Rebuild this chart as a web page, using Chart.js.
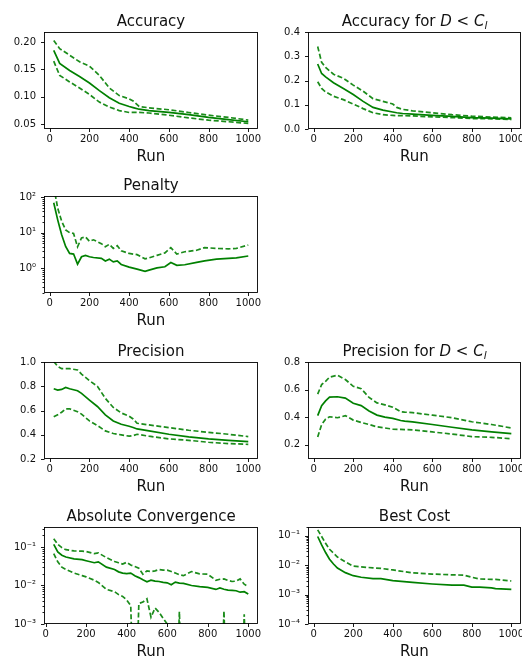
<!DOCTYPE html>
<html>
<head>
<meta charset="utf-8">
<script src="https://cdn.jsdelivr.net/npm/chart.js@4.4.0/dist/chart.umd.min.js"></script>
<style>
  body { margin: 0; background: #fff; }
  #page { position: relative; width: 522px; height: 660px; overflow: hidden; }
  canvas { position: absolute; }
</style>
</head>
<body>
<div id="page">
  <canvas id="acc" width="262" height="165" style="left:0;top:0"></canvas>
  <canvas id="accDC" width="260" height="165" style="left:262px;top:0"></canvas>
  <canvas id="penalty" width="262" height="165" style="left:0;top:164px"></canvas>
  <canvas id="prec" width="262" height="165" style="left:0;top:330px"></canvas>
  <canvas id="precDC" width="260" height="165" style="left:262px;top:330px"></canvas>
  <canvas id="conv" width="262" height="165" style="left:0;top:495px"></canvas>
  <canvas id="cost" width="260" height="165" style="left:262px;top:495px"></canvas>
</div>
<script>
// x ticks shared by all panels
const xTicks = [0, 200, 400, 600, 800, 1000];

// Accuracy
const accRuns  = [20, 50, 100, 150, 200, 250, 300, 350, 400, 420, 450, 500, 600, 700, 800, 900, 1000];
const accMean  = [0.185, 0.161, 0.148, 0.137, 0.125, 0.111, 0.098, 0.088, 0.082, 0.080, 0.077, 0.0745, 0.071, 0.067, 0.062, 0.058, 0.054];
const accUpper = [0.203, 0.188, 0.176, 0.164, 0.156, 0.139, 0.116, 0.102, 0.096, 0.092, 0.082, 0.0795, 0.076, 0.071, 0.066, 0.062, 0.057];
const accLower = [0.165, 0.139, 0.127, 0.116, 0.104, 0.090, 0.081, 0.0745, 0.071, 0.071, 0.071, 0.070, 0.066, 0.061, 0.057, 0.054, 0.051];
const accTicks = [0.05, 0.10, 0.15, 0.20];

// Accuracy for D < C_l
const accDCRuns  = [20, 40, 60, 100, 150, 200, 250, 300, 350, 400, 420, 450, 500, 600, 700, 800, 900, 1000];
const accDCMean  = [0.268, 0.229, 0.215, 0.191, 0.167, 0.142, 0.114, 0.089, 0.078, 0.070, 0.067, 0.064, 0.061, 0.056, 0.052, 0.047, 0.045, 0.042];
const accDCUpper = [0.340, 0.275, 0.254, 0.226, 0.209, 0.181, 0.156, 0.125, 0.114, 0.103, 0.089, 0.081, 0.075, 0.067, 0.059, 0.053, 0.049, 0.046];
const accDCLower = [0.195, 0.167, 0.153, 0.135, 0.121, 0.103, 0.084, 0.067, 0.059, 0.056, 0.055, 0.055, 0.054, 0.050, 0.047, 0.043, 0.042, 0.039];
const accDCTicks = [0.0, 0.1, 0.2, 0.3, 0.4];

// Penalty (log)
const penRuns  = [20, 40, 60, 80, 100, 120, 140, 160, 180, 200, 220, 260, 280, 300, 320, 340, 360, 400, 440, 480, 500, 540, 580, 610, 640, 680, 740, 780, 840, 900, 940, 1000];
const penMean  = [70, 23, 8.8, 4.1, 2.6, 2.5, 1.3, 2.1, 2.3, 2.1, 2.0, 1.9, 1.6, 1.8, 1.5, 1.6, 1.27, 1.07, 0.94, 0.82, 0.88, 1.02, 1.1, 1.45, 1.2, 1.25, 1.45, 1.6, 1.8, 1.9, 1.95, 2.2];
const penUpper = [200, 49, 21, 12, 10, 9.5, 4.0, 7.1, 7.6, 5.7, 6.3, 4.9, 4.0, 4.7, 3.6, 4.3, 3.1, 2.6, 2.4, 1.83, 1.95, 2.3, 2.7, 3.8, 2.5, 2.9, 3.2, 3.8, 3.6, 3.5, 3.6, 4.5];
const penTicks = [1, 10, 100];

// Precision
const precRuns  = [20, 40, 60, 80, 100, 140, 160, 200, 240, 280, 320, 360, 400, 420, 440, 500, 600, 700, 800, 900, 1000];
const precMean  = [0.779, 0.768, 0.774, 0.790, 0.779, 0.763, 0.741, 0.686, 0.633, 0.564, 0.514, 0.487, 0.470, 0.460, 0.448, 0.432, 0.404, 0.382, 0.366, 0.354, 0.343];
const precUpper = [1.005, 0.964, 0.945, 0.945, 0.945, 0.934, 0.900, 0.846, 0.800, 0.700, 0.625, 0.580, 0.553, 0.530, 0.495, 0.481, 0.459, 0.437, 0.420, 0.404, 0.385];
const precLower = [0.548, 0.564, 0.586, 0.614, 0.614, 0.590, 0.570, 0.514, 0.476, 0.432, 0.410, 0.399, 0.388, 0.393, 0.404, 0.388, 0.366, 0.354, 0.338, 0.327, 0.321];
const precTicks = [0.2, 0.4, 0.6, 0.8, 1.0];

// Precision for D < C_l
const precDCRuns  = [20, 40, 60, 80, 120, 160, 200, 240, 280, 320, 360, 400, 440, 460, 500, 600, 700, 800, 900, 1000];
const precDCMean  = [0.411, 0.484, 0.518, 0.545, 0.548, 0.538, 0.501, 0.484, 0.445, 0.415, 0.400, 0.391, 0.376, 0.371, 0.366, 0.347, 0.327, 0.308, 0.293, 0.281];
const precDCUpper = [0.567, 0.636, 0.660, 0.690, 0.704, 0.673, 0.624, 0.607, 0.543, 0.504, 0.489, 0.472, 0.440, 0.437, 0.433, 0.415, 0.396, 0.367, 0.347, 0.322];
const precDCLower = [0.256, 0.347, 0.386, 0.403, 0.396, 0.411, 0.379, 0.362, 0.347, 0.330, 0.322, 0.313, 0.312, 0.310, 0.308, 0.293, 0.278, 0.259, 0.254, 0.244];
const precDCTicks = [0.2, 0.4, 0.6, 0.8];

// Absolute Convergence (log) - 1e-6 means below the axis
const convRuns  = [40, 60, 80, 100, 140, 180, 200, 240, 260, 300, 340, 360, 380, 400, 420, 440, 460, 480, 500, 520, 540, 560, 580, 600, 620, 640, 660, 680, 720, 760, 800, 840, 860, 880, 900, 920, 940, 960, 980, 1000];
const convMean  = [0.117, 0.074, 0.061, 0.055, 0.049, 0.047, 0.044, 0.039, 0.041, 0.030, 0.026, 0.0226, 0.021, 0.0204, 0.021, 0.018, 0.016, 0.014, 0.0125, 0.0138, 0.013, 0.0127, 0.012, 0.0117, 0.0104, 0.0122, 0.0115, 0.0113, 0.0100, 0.0093, 0.0089, 0.0079, 0.0086, 0.0080, 0.0076, 0.0075, 0.0073, 0.0067, 0.0069, 0.0060];
const convUpper = [0.164, 0.117, 0.096, 0.085, 0.079, 0.078, 0.076, 0.067, 0.070, 0.053, 0.042, 0.039, 0.036, 0.040, 0.034, 0.031, 0.028, 0.0196, 0.024, 0.023, 0.024, 0.026, 0.025, 0.025, 0.023, 0.021, 0.019, 0.018, 0.023, 0.020, 0.0196, 0.0137, 0.0145, 0.0148, 0.0135, 0.0127, 0.013, 0.0148, 0.0108, 0.0093];
const convLower = [0.067, 0.041, 0.030, 0.026, 0.021, 0.018, 0.0167, 0.0137, 0.012, 0.0079, 0.0069, 0.0058, 0.0052, 0.0042, 0.0030, 1e-6, 0.0034, 0.0037, 0.0045, 0.0015, 0.0026, 0.0020, 0.0014, 0.0010, 1e-6, 1e-6, 0.0021, 1e-6, 1e-6, 1e-6, 1e-6, 1e-6, 1e-6, 0.0022, 1e-6, 1e-6, 1e-6, 1e-6, 0.0018, 1e-6];
const convTicks = [0.001, 0.01, 0.1];

// Best Cost (log)
const costRuns  = [20, 40, 60, 80, 100, 120, 160, 200, 240, 300, 340, 400, 500, 600, 700, 760, 800, 840, 900, 920, 1000];
const costMean  = [0.095, 0.049, 0.027, 0.016, 0.011, 0.0080, 0.0056, 0.0044, 0.0039, 0.0035, 0.0035, 0.0030, 0.0026, 0.0023, 0.0021, 0.0021, 0.0018, 0.0018, 0.0017, 0.0016, 0.0015];
const costUpper = [0.16, 0.095, 0.056, 0.035, 0.026, 0.019, 0.013, 0.0093, 0.0088, 0.0081, 0.0078, 0.0069, 0.0055, 0.0050, 0.0047, 0.0046, 0.0039, 0.0034, 0.0033, 0.0033, 0.0029];
const costTicks = [0.0001, 0.001, 0.01, 0.1];

Chart.defaults.font.family = "'DejaVu Sans', sans-serif";
Chart.defaults.color = '#111';

const GREEN = '#008000';
const GREEN_DASH = '#1b8c1b';
const SUP = { '-': '\u207B', '0': '\u2070', '1': '\u00B9', '2': '\u00B2', '3': '\u00B3', '4': '\u2074', '5': '\u2075', '6': '\u2076', '7': '\u2077', '8': '\u2078', '9': '\u2079' };

function isPow10(v) {
  const e = Math.log10(v);
  return Math.abs(e - Math.round(e)) < 1e-9;
}

function powLabel(v) {
  const e = String(Math.round(Math.log10(v)));
  return '10' + e.split('').map(c => SUP[c]).join('');
}

// majors plus 2..9 minor ticks, kept inside the axis range
function logTicks(majors, min, max) {
  const out = [];
  const lo = Math.floor(Math.log10(min)), hi = Math.ceil(Math.log10(max));
  for (let k = lo; k <= hi; k++) {
    for (let m = 1; m <= 9; m++) {
      const v = m * Math.pow(10, k);
      if (v < min * 0.999 || v > max * 1.001) continue;
      out.push({ value: v, minor: m !== 1 });
    }
  }
  return out;
}

// box around the plot, tick marks and the axes title
const frame = {
  id: 'frame',
  afterDraw(chart, args, opts) {
    const { ctx, chartArea: a } = chart;
    ctx.save();
    ctx.strokeStyle = '#000';
    ctx.lineWidth = 0.9;
    const L = Math.round(a.left) + 0.5, T = Math.round(a.top) + 0.5;
    const R = Math.round(a.right) - 0.5, B = Math.round(a.bottom) - 0.5;
    ctx.strokeRect(L, T, R - L, B - T);

    ctx.beginPath();
    chart.scales.x.ticks.forEach(t => {
      const p = Math.round(chart.scales.x.getPixelForValue(t.value)) + 0.5;
      ctx.moveTo(p, B); ctx.lineTo(p, B + 3.5);
    });
    chart.scales.y.ticks.forEach(t => {
      const p = Math.round(chart.scales.y.getPixelForValue(t.value)) + 0.5;
      ctx.moveTo(L, p); ctx.lineTo(L - (t.minor ? 2 : 3.5), p);
    });
    ctx.stroke();

    // title, with math italics where needed
    const parts = opts.title;
    ctx.fillStyle = '#111';
    ctx.textBaseline = 'alphabetic';
    const fontOf = p => (p.it ? 'italic ' : '') + (p.sub ? '10.5px' : '15px') + " 'DejaVu Sans'";
    let total = 0;
    parts.forEach(p => { ctx.font = fontOf(p); total += ctx.measureText(p.t).width; });
    let x = (a.left + a.right) / 2 - total / 2;
    const y = a.top - 6;
    parts.forEach(p => {
      ctx.font = fontOf(p);
      ctx.fillText(p.t, x, y + (p.sub ? 3 : 0));
      x += ctx.measureText(p.t).width;
    });
    ctx.restore();
  }
};

function series(runs, vals, dash) {
  return {
    data: runs.map((r, i) => ({ x: r, y: vals[i] })),
    borderColor: dash.length ? GREEN_DASH : GREEN,
    borderWidth: 1.7,
    borderDash: dash,
    pointRadius: 0,
    tension: 0,
    fill: false
  };
}

function makeChart(id, o) {
  const sets = [series(o.runs, o.mean, [])];
  sets.push(series(o.runs, o.upper, [5, 2.5]));
  if (o.lower) sets.push(series(o.runs, o.lower, [5, 2.5]));

  new Chart(document.getElementById(id), {
    type: 'line',
    data: { datasets: sets },
    plugins: [frame],
    options: {
      responsive: false,
      animation: false,
      layout: { padding: { top: 32, right: o.padRight, left: 0, bottom: 0 } },
      plugins: {
        legend: { display: false },
        tooltip: { enabled: false },
        frame: { title: o.title }
      },
      scales: {
        x: {
          type: 'linear',
          min: o.xMin, max: o.xMax,
          bounds: 'data',
          grid: { display: false, drawTicks: false },
          border: { display: false },
          ticks: { padding: 4, maxRotation: 0, autoSkip: false, font: { size: 10 }, callback: v => String(v) },
          afterBuildTicks: s => { s.ticks = xTicks.map(v => ({ value: v })); },
          afterFit: s => { s.height = 36; s.paddingLeft = 0; s.paddingRight = 0; },
          title: { display: true, text: 'Run', font: { size: 15, lineHeight: 1 }, padding: 0, color: '#111' }
        },
        y: {
          type: o.log ? 'logarithmic' : 'linear',
          min: o.yMin, max: o.yMax,
          bounds: 'data',
          grid: { display: false, drawTicks: false },
          border: { display: false },
          ticks: {
            padding: 8, autoSkip: false, font: { size: 10 },
            callback: v => o.log ? (isPow10(v) ? powLabel(v) : '') : v.toFixed(o.dec)
          },
          afterBuildTicks: s => {
            s.ticks = o.log ? logTicks(o.yTicks, o.yMin, o.yMax) : o.yTicks.map(v => ({ value: v }));
          },
          afterFit: s => { s.width = o.yWidth; s.paddingTop = 0; s.paddingBottom = 0; }
        }
      }
    }
  });
}

const LEFT = { yWidth: 44, padRight: 4 };
const RIGHT = { yWidth: 46, padRight: 1 };
const italic = s => ({ t: s, it: true });

makeChart('acc', Object.assign({
  title: [{ t: 'Accuracy' }],
  runs: accRuns, mean: accMean, upper: accUpper, lower: accLower,
  xMin: -29, xMax: 1049, yMin: 0.0407, yMax: 0.2185, yTicks: accTicks, dec: 2
}, LEFT));

makeChart('accDC', Object.assign({
  title: [{ t: 'Accuracy for ' }, italic('D'), { t: ' < ' }, italic('C'), { t: 'l', it: true, sub: true }],
  runs: accDCRuns, mean: accDCMean, upper: accDCUpper, lower: accDCLower,
  xMin: -29, xMax: 1049, yMin: 0, yMax: 0.4, yTicks: accDCTicks, dec: 1
}, RIGHT));

makeChart('penalty', Object.assign({
  title: [{ t: 'Penalty' }],
  runs: penRuns, mean: penMean, upper: penUpper,
  xMin: -29, xMax: 1049, log: true, yMin: 0.2, yMax: 108, yTicks: penTicks
}, LEFT));

makeChart('prec', Object.assign({
  title: [{ t: 'Precision' }],
  runs: precRuns, mean: precMean, upper: precUpper, lower: precLower,
  xMin: -29, xMax: 1049, yMin: 0.2, yMax: 1.0, yTicks: precTicks, dec: 1
}, LEFT));

makeChart('precDC', Object.assign({
  title: [{ t: 'Precision for ' }, italic('D'), { t: ' < ' }, italic('C'), { t: 'l', it: true, sub: true }],
  runs: precDCRuns, mean: precDCMean, upper: precDCUpper, lower: precDCLower,
  xMin: -29, xMax: 1049, yMin: 0.097, yMax: 0.8, yTicks: precDCTicks, dec: 1
}, RIGHT));

makeChart('conv', Object.assign({
  title: [{ t: 'Absolute Convergence' }],
  runs: convRuns, mean: convMean, upper: convUpper, lower: convLower,
  xMin: -8, xMax: 1048, log: true, yMin: 0.001, yMax: 0.33, yTicks: convTicks
}, LEFT));

makeChart('cost', Object.assign({
  title: [{ t: 'Best Cost' }],
  runs: costRuns, mean: costMean, upper: costUpper,
  xMin: -29, xMax: 1049, log: true, yMin: 0.0001, yMax: 0.2, yTicks: costTicks
}, RIGHT));
</script>
</body>
</html>
